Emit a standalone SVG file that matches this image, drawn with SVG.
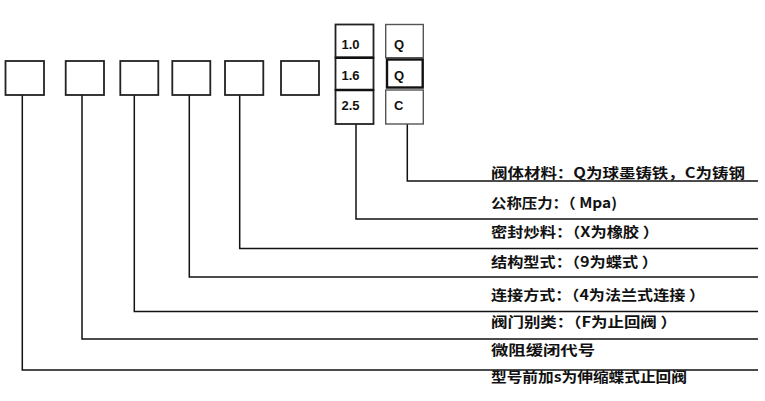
<svg xmlns="http://www.w3.org/2000/svg" width="765" height="401" viewBox="0 0 765 401">
<style>
.box{fill:#fff;stroke:#222;stroke-width:1.8}
.gbox{fill:#fff;stroke:#555;stroke-width:1.4}
.tbox{fill:#fff;stroke:#111;stroke-width:2.4}
.ln{fill:none;stroke:#111;stroke-width:1.5}
.lab{font-family:"Noto Sans CJK SC","Liberation Sans",sans-serif;font-size:14px;font-weight:700;fill:#111}
.code{font-family:"Liberation Sans",Arial,sans-serif;font-size:13px;font-weight:700;fill:#111}
</style>
<rect width="765" height="401" fill="#fff"/>
<g id="connectors">
<polyline class="ln" points="22.3,95 22.3,370 758,370"/>
<polyline class="ln" points="82,95 82,339 758,339"/>
<polyline class="ln" points="134.3,95 134.3,311.5 758,311.5"/>
<polyline class="ln" points="189.3,95 189.3,277 758,277"/>
<polyline class="ln" points="239.7,95 239.7,248.5 758,248.5"/>
<polyline class="ln" points="356,124 356,219 758,219"/>
<polyline class="ln" points="407.3,124 407.3,181 758,181"/>
</g>
<g id="box1"><rect class="box" x="5.5" y="61" width="38.5" height="34"/></g>
<g id="box2"><rect class="box" x="65.7" y="61" width="38.3" height="34"/></g>
<g id="box3"><rect class="box" x="120.3" y="61" width="38" height="34"/></g>
<g id="box4"><rect class="box" x="172.3" y="61" width="38" height="34"/></g>
<g id="box5"><rect class="box" x="225" y="61" width="38.3" height="34"/></g>
<g id="box6"><rect class="box" x="281" y="61" width="38" height="34"/></g>
<g id="pressure">
<rect class="box" x="335.5" y="24.5" width="38" height="33.2"/>
<rect class="box" x="335.5" y="57.7" width="38" height="32.3"/>
<rect class="box" x="335.5" y="90" width="38" height="34"/>
<line x1="335.5" y1="57.7" x2="373.5" y2="57.7" stroke="#111" stroke-width="2.6"/>
<line x1="335.5" y1="90" x2="373.5" y2="90" stroke="#111" stroke-width="2.6"/>
<text class="code" x="341.5" y="49">1.0</text>
<text class="code" x="341.5" y="79.5">1.6</text>
<text class="code" x="341.5" y="110">2.5</text>
</g>
<g id="material">
<rect class="gbox" x="385.7" y="24.5" width="37.6" height="33.2"/>
<rect class="tbox" x="387" y="59.5" width="35.7" height="28"/>
<rect class="gbox" x="385.7" y="90" width="37.6" height="34"/>
<text class="code" x="394" y="49">Q</text>
<text class="code" x="394" y="79.5">Q</text>
<text class="code" x="394" y="110">C</text>
</g>
<g id="labels">
<text class="lab" x="491" y="178" textLength="254" lengthAdjust="spacingAndGlyphs">阀体材料：Q为球墨铸铁，C为铸钢</text>
<text class="lab" x="491" y="208" textLength="126" lengthAdjust="spacingAndGlyphs">公称压力：（ Mpa)</text>
<text class="lab" x="491" y="236.5" textLength="168" lengthAdjust="spacingAndGlyphs">密封炒料：（X为橡胶 ）</text>
<text class="lab" x="491" y="267" textLength="167" lengthAdjust="spacingAndGlyphs">结构型式：（9为蝶式 ）</text>
<text class="lab" x="491" y="300" textLength="214" lengthAdjust="spacingAndGlyphs">连接方式：（4为法兰式连接 ）</text>
<text class="lab" x="491" y="327" textLength="186" lengthAdjust="spacingAndGlyphs">阀门别类：（F为止回阀 ）</text>
<text class="lab" x="491" y="355" textLength="104" lengthAdjust="spacingAndGlyphs">微阻缓闭代号</text>
<text class="lab" x="491" y="382" textLength="196" lengthAdjust="spacingAndGlyphs">型号前加s为伸缩蝶式止回阀</text>
</g>
</svg>
